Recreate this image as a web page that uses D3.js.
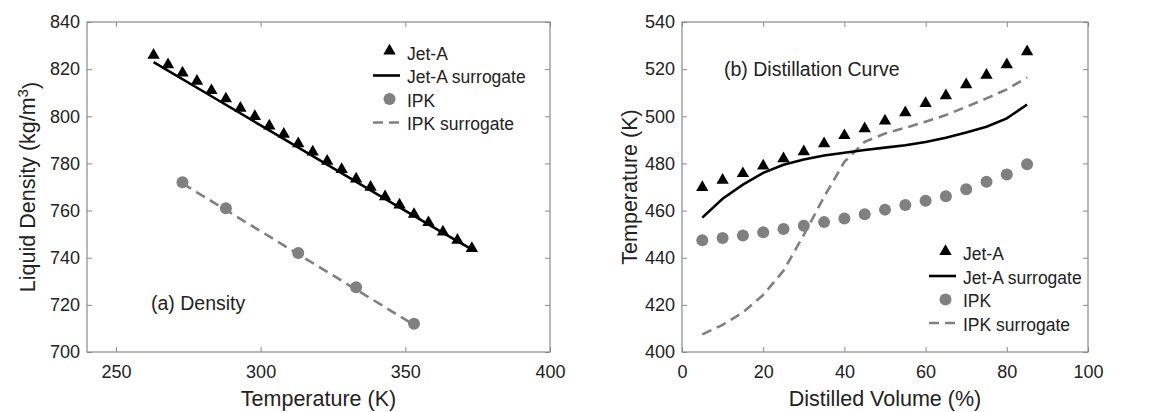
<!DOCTYPE html>
<html>
<head>
<meta charset="utf-8">
<script src="https://cdn.jsdelivr.net/npm/d3@7"></script>
<style>
  body { margin: 0; background: #fff; }
  svg { display: block; font-family: "Liberation Sans", Arial, sans-serif; }
</style>
</head>
<body>
<svg id="chart" width="1175" height="412"></svg>
<script>
// ---- (a) density data ----
const densTemp = [263, 268, 273, 278, 283, 288, 293, 298, 303, 308, 313, 318,
                  323, 328, 333, 338, 343, 348, 353, 358, 363, 368, 373];
const densJetA = [825.5, 821.5, 818, 814.5, 810.5, 807, 803, 799.5, 795.5, 792, 788, 784.5,
                  780.5, 777, 773, 769.5, 765.5, 762, 758, 754.5, 750.5, 747, 743.5];
const densJetASurTemp = [263, 283, 303, 323, 343, 363, 373];
const densJetASur = [823, 808.5, 794, 779.5, 765, 750.5, 743.5];
const densIpkTemp = [273, 288, 313, 333, 353];
const densIpk = [772, 761, 742, 727.5, 712];
const densIpkSurTemp = [273, 293, 313, 333, 353];
const densIpkSur = [771.5, 756.5, 741.5, 726.5, 711.5];

// ---- (b) distillation data ----
const distVol = [5, 10, 15, 20, 25, 30, 35, 40, 45, 50, 55, 60, 65, 70, 75, 80, 85];
const distJetA = [469.4, 472.5, 475.3, 478.5, 481.6, 484.6, 488, 491.4, 494.3, 497.6,
                  501.1, 505, 508.3, 513, 517, 521.5, 527];
const distJetASur = [457, 465, 471, 476, 479.4, 481.7, 483.4, 484.5, 485.7, 486.7,
                     487.7, 489.1, 490.9, 493.1, 495.6, 499.1, 505];
const distIpk = [447.4, 448.4, 449.4, 450.8, 452.2, 453.6, 455.1, 456.6, 458.4, 460.4,
                 462.4, 464.2, 466.1, 469, 472.2, 475.3, 479.7];
const distIpkSur = [407.5, 411.5, 416.8, 424.2, 434.5, 449.7, 465.8, 480.7, 489.2, 492.7,
                    495.1, 497.7, 500.5, 504, 507.6, 511.4, 516.5];

const legendLabels = ["Jet-A", "Jet-A surrogate", "IPK", "IPK surrogate"];

const gray = "#808080";
const axisGray = "#8a8a8a";
const textCol = "#222";

const svg = d3.select("#chart");

function zip(xs, ys) { return xs.map((x, i) => [x, ys[i]]); }

function panel(cfg) {
  const g = svg.append("g");
  const x = d3.scaleLinear().domain(cfg.xDomain).range([cfg.left, cfg.right]);
  const y = d3.scaleLinear().domain(cfg.yDomain).range([cfg.bottom, cfg.top]);

  // axes, ticks pointing inward (box style)
  const styleAxis = sel => {
    sel.select(".domain").remove();
    sel.selectAll("line").attr("stroke", axisGray);
    sel.selectAll("text").attr("fill", textCol).style("font-size", "18px");
  };
  g.append("g").attr("transform", `translate(0,${cfg.bottom})`)
    .call(d3.axisBottom(x).tickValues(cfg.xTicks).tickSizeInner(-5).tickSizeOuter(0).tickPadding(13))
    .call(styleAxis);
  g.append("g").attr("transform", `translate(0,${cfg.top})`)
    .call(d3.axisTop(x).tickValues(cfg.xTicks).tickSizeInner(-5).tickSizeOuter(0).tickFormat(""))
    .call(styleAxis);
  g.append("g").attr("transform", `translate(${cfg.left},0)`)
    .call(d3.axisLeft(y).tickValues(cfg.yTicks).tickSizeInner(-5).tickSizeOuter(0).tickPadding(7))
    .call(styleAxis);
  g.append("g").attr("transform", `translate(${cfg.right},0)`)
    .call(d3.axisRight(y).tickValues(cfg.yTicks).tickSizeInner(-5).tickSizeOuter(0).tickFormat(""))
    .call(styleAxis);
  g.append("rect")
    .attr("x", cfg.left).attr("y", cfg.top)
    .attr("width", cfg.right - cfg.left).attr("height", cfg.bottom - cfg.top)
    .attr("fill", "none").attr("stroke", axisGray).attr("stroke-width", 1.2);

  const line = d3.line().x(d => x(d[0])).y(d => y(d[1]));

  // surrogate curves
  g.append("path").datum(cfg.ipkSur).attr("d", line)
    .attr("fill", "none").attr("stroke", gray).attr("stroke-width", 2.6)
    .attr("stroke-dasharray", "10,6");
  g.append("path").datum(cfg.jetSur).attr("d", line)
    .attr("fill", "none").attr("stroke", "#000").attr("stroke-width", 2.6);

  // measured points
  g.selectAll("circle.ipk").data(cfg.ipk).join("circle")
    .attr("class", "ipk")
    .attr("cx", d => x(d[0])).attr("cy", d => y(d[1]))
    .attr("r", 6).attr("fill", gray);
  const tri = d3.symbol(d3.symbolTriangle).size(66);
  g.selectAll("path.jet").data(cfg.jet).join("path")
    .attr("class", "jet")
    .attr("transform", d => `translate(${x(d[0])},${y(d[1]) - 1})`)
    .attr("d", tri).attr("fill", "#000");

  // axis titles
  g.append("text")
    .attr("x", (cfg.left + cfg.right) / 2).attr("y", 406)
    .attr("text-anchor", "middle").attr("fill", textCol).style("font-size", "21.5px")
    .text(cfg.xLabel);
  const yl = g.append("text")
    .attr("transform", `translate(${cfg.yLabelX},${(cfg.top + cfg.bottom) / 2}) rotate(-90)`)
    .attr("text-anchor", "middle").attr("fill", textCol).style("font-size", "21.5px");
  cfg.yLabel(yl);

  // panel annotation
  g.append("text")
    .attr("x", cfg.noteX).attr("y", cfg.noteY)
    .attr("fill", textCol).style("font-size", "19.5px")
    .text(cfg.note);

  // legend
  const lg = g.append("g").attr("transform", `translate(${cfg.legX},${cfg.legY})`);
  legendLabels.forEach((lab, i) => {
    const row = lg.append("g").attr("transform", `translate(0,${i * 23.5})`);
    const cy = -7.5;
    if (i === 0) row.append("path").attr("d", tri).attr("transform", `translate(16.5,${cy - 1})`).attr("fill", "#000");
    if (i === 1) row.append("line").attr("x1", 0).attr("x2", 27).attr("y1", cy).attr("y2", cy)
      .attr("stroke", "#000").attr("stroke-width", 2.6);
    if (i === 2) row.append("circle").attr("cx", 16.5).attr("cy", cy).attr("r", 6).attr("fill", gray);
    if (i === 3) row.append("line").attr("x1", 0).attr("x2", 30).attr("y1", cy).attr("y2", cy)
      .attr("stroke", gray).attr("stroke-width", 2.6).attr("stroke-dasharray", "10,6");
    row.append("text").attr("x", 34).attr("y", 0)
      .attr("fill", textCol).style("font-size", "17.5px").text(lab);
  });
}

panel({
  left: 87, right: 550, top: 22, bottom: 352,
  xDomain: [240, 400], yDomain: [700, 840],
  xTicks: [250, 300, 350, 400], yTicks: d3.range(700, 841, 20),
  jet: zip(densTemp, densJetA),
  jetSur: zip(densJetASurTemp, densJetASur),
  ipk: zip(densIpkTemp, densIpk),
  ipkSur: zip(densIpkSurTemp, densIpkSur),
  xLabel: "Temperature (K)",
  yLabelX: 35,
  yLabel: t => {
    t.append("tspan").text("Liquid Density (kg/m");
    t.append("tspan").attr("dy", "-0.45em").style("font-size", "15px").text("3");
    t.append("tspan").attr("dy", "0.45em").text(")");
  },
  note: "(a) Density", noteX: 151, noteY: 310,
  legX: 373, legY: 59.5
});

panel({
  left: 682, right: 1088, top: 22, bottom: 352,
  xDomain: [0, 100], yDomain: [400, 540],
  xTicks: d3.range(0, 101, 20), yTicks: d3.range(400, 541, 20),
  jet: zip(distVol, distJetA),
  jetSur: zip(distVol, distJetASur),
  ipk: zip(distVol, distIpk),
  ipkSur: zip(distVol, distIpkSur),
  xLabel: "Distilled Volume (%)",
  yLabelX: 637,
  yLabel: t => t.text("Temperature (K)"),
  note: "(b) Distillation Curve", noteX: 724, noteY: 76,
  legX: 929, legY: 260
});
</script>
</body>
</html>
